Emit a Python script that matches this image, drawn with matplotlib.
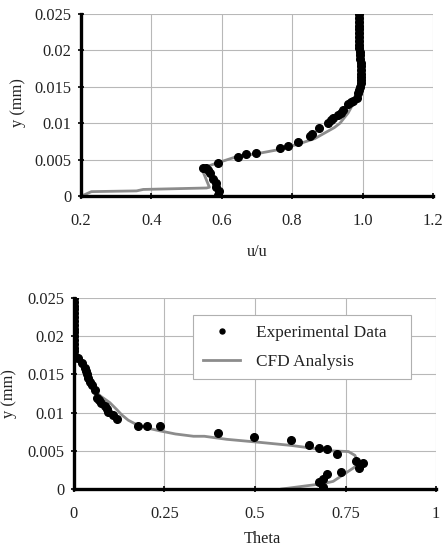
import matplotlib

matplotlib.use("Agg")
import matplotlib.pyplot as plt
from matplotlib.ticker import FixedLocator, FixedFormatter

plt.rcParams["font.family"] = ["Liberation Serif", "DejaVu Serif"]

# top panel: velocity profile
vel_exp_x = [0.59, 0.592, 0.585, 0.585, 0.576, 0.566, 0.562, 0.556, 0.546, 0.59, 0.647, 0.669,
             0.697, 0.767, 0.789, 0.817, 0.851, 0.857, 0.877, 0.903, 0.91, 0.917, 0.931, 0.938,
             0.945, 0.959, 0.966, 0.974, 0.983, 0.987, 0.99, 0.993, 0.995, 0.996, 0.997, 0.997,
             0.997, 0.996, 0.995, 0.994, 0.993, 0.992, 0.991, 0.99, 0.99, 0.989, 0.989, 0.989,
             0.989, 0.989, 0.989, 0.989]
vel_exp_y = [0.0001, 0.0007, 0.0013, 0.0018, 0.0024, 0.0031, 0.0036, 0.0038, 0.0038, 0.0046, 0.0054, 0.0057,
             0.0059, 0.0066, 0.0069, 0.0074, 0.0083, 0.0085, 0.0093, 0.0100, 0.0104, 0.0107, 0.0111, 0.0114,
             0.0118, 0.0127, 0.0129, 0.0130, 0.0134, 0.0141, 0.0146, 0.0150, 0.0155, 0.0159, 0.0163, 0.0168,
             0.0173, 0.0178, 0.0183, 0.0188, 0.0193, 0.0198, 0.0203, 0.0208, 0.0213, 0.0219, 0.0224, 0.0229,
             0.0234, 0.0239, 0.0245, 0.0250]
vel_cfd_x = [0.202, 0.23, 0.358, 0.377, 0.557, 0.565, 0.543, 0.585, 0.642, 0.699, 0.765, 0.822,
             0.865, 0.898, 0.92, 0.936, 0.959, 0.974, 0.983, 0.99, 0.992, 0.99, 0.99]
vel_cfd_y = [0.0, 0.0006, 0.0007, 0.0009, 0.0011, 0.0012, 0.0038, 0.0045, 0.0054, 0.0058, 0.0064, 0.0072,
             0.0079, 0.0088, 0.0094, 0.0100, 0.0114, 0.0127, 0.0134, 0.0141, 0.016, 0.02, 0.025]

# bottom panel: temperature profile
th_exp_x = [0.0, 0.0, 0.0, 0.0, 0.0, 0.0, 0.0, 0.0, 0.0, 0.0, 0.0, 0.0, 0.0, 0.0, 0.0, 0.0, 0.0,
            0.012, 0.021, 0.030, 0.033, 0.035, 0.040, 0.044, 0.049, 0.058, 0.063, 0.070, 0.076,
            0.086, 0.090, 0.095, 0.109, 0.118, 0.178, 0.201, 0.238, 0.399, 0.498, 0.599, 0.649,
            0.677, 0.700, 0.727, 0.779, 0.797, 0.788, 0.737, 0.698, 0.687, 0.677, 0.687, 0.687]
th_exp_y = [0.0250, 0.0245, 0.0240, 0.0235, 0.0230, 0.0225, 0.0220, 0.0215, 0.0210, 0.0205, 0.0200,
            0.0195, 0.0190, 0.0185, 0.0180, 0.0175, 0.0171,
            0.0172, 0.0165, 0.0158, 0.0155, 0.0151, 0.0145, 0.0140, 0.0136, 0.0130, 0.0119, 0.0116, 0.0112,
            0.0108, 0.0105, 0.0101, 0.0097, 0.0091, 0.0083, 0.0082, 0.0082, 0.0073, 0.0068, 0.0064, 0.0058,
            0.0054, 0.0052, 0.0046, 0.0037, 0.0034, 0.0027, 0.0022, 0.0019, 0.0013, 0.0009, 0.0002, 0.0]
th_cfd_x = [0.574, 0.680, 0.707, 0.716, 0.786, 0.776, 0.758, 0.707, 0.68, 0.6, 0.514, 0.422,
            0.36, 0.330, 0.28, 0.238, 0.2, 0.170, 0.150, 0.132, 0.118, 0.099, 0.075, 0.053,
            0.040, 0.021, 0.007, 0.0, 0.0]
th_cfd_y = [0.0, 0.00065, 0.0009, 0.0010, 0.0032, 0.0044, 0.0049, 0.0050, 0.0052, 0.0057, 0.0061, 0.0065,
            0.0069, 0.0069, 0.0072, 0.0076, 0.0080, 0.0085, 0.0090, 0.0097, 0.0104, 0.0113, 0.0121, 0.0130,
            0.0143, 0.0160, 0.0171, 0.019, 0.025]

y_ticks = [0, 0.005, 0.01, 0.015, 0.02, 0.025]
y_labels = ["0", "0.005", "0.01", "0.015", "0.02", "0.025"]
top_x_ticks = [0.2, 0.4, 0.6, 0.8, 1.0, 1.2]
top_x_labels = ["0.2", "0.4", "0.6", "0.8", "1.0", "1.2"]
bot_x_ticks = [0, 0.25, 0.5, 0.75, 1.0]
bot_x_labels = ["0", "0.25", "0.5", "0.75", "1"]

TEXT = "#222222"
FS = 11.8


def style_axis(ax, xticks, xlabels):
    ax.xaxis.set_major_locator(FixedLocator(xticks))
    ax.xaxis.set_major_formatter(FixedFormatter(xlabels))
    ax.yaxis.set_major_locator(FixedLocator(y_ticks))
    ax.yaxis.set_major_formatter(FixedFormatter(y_labels))
    ax.grid(True, color="#b8b8b8", linewidth=0.8)
    ax.set_axisbelow(True)
    for side in ("top", "right"):
        ax.spines[side].set_visible(False)
    for side in ("left", "bottom"):
        ax.spines[side].set_linewidth(2.4)
        ax.spines[side].set_color("black")
    ax.tick_params(direction="inout", length=5, width=1.2, colors="black",
                   labelcolor=TEXT, labelsize=FS)
    ax.tick_params(axis="x", pad=10)
    ax.tick_params(axis="y", pad=4.5)


fig = plt.figure(figsize=(4.47, 5.49), dpi=100)

ax1 = fig.add_axes([0.181, 0.643, 0.7875, 0.3315])
ax1.plot(vel_cfd_x, vel_cfd_y, color="#8c8c8c", linewidth=2.0, zorder=2)
ax1.plot(vel_exp_x, vel_exp_y, "o", color="black", markersize=5.5, zorder=3)
ax1.set_xlim(0.2, 1.2)
ax1.set_ylim(0, 0.025)
style_axis(ax1, top_x_ticks, top_x_labels)
ax1.set_xlabel("u/u", fontsize=FS, color=TEXT)
ax1.set_ylabel("y (mm)", fontsize=FS, color=TEXT)
ax1.xaxis.set_label_coords(0.5, -0.262)
ax1.yaxis.set_label_coords(-0.157, 0.516)

ax2 = fig.add_axes([0.1655, 0.1093, 0.81, 0.348])
ax2.plot(th_cfd_x, th_cfd_y, color="#8c8c8c", linewidth=2.0, zorder=2, label="CFD Analysis")
ax2.plot(th_exp_x, th_exp_y, "o", color="black", markersize=5.5, zorder=3, label="Experimental Data")
ax2.set_xlim(0, 1)
ax2.set_ylim(0, 0.025)
style_axis(ax2, bot_x_ticks, bot_x_labels)
ax2.set_xlabel("Theta", fontsize=FS, color=TEXT)
ax2.set_ylabel("y (mm)", fontsize=FS, color=TEXT)
ax2.xaxis.set_label_coords(0.519, -0.222)
ax2.yaxis.set_label_coords(-0.158, 0.497)

handles, labels = ax2.get_legend_handles_labels()
leg = ax2.legend(handles[::-1], labels[::-1], loc="center", bbox_to_anchor=(0.329, 0.576, 0.602, 0.33),
                 bbox_transform=ax2.transAxes, mode="expand", borderaxespad=0, fancybox=False,
                 framealpha=1, edgecolor="#b0b0b0", fontsize=12.4, markerscale=0.65, handlelength=2.2,
                 borderpad=0.55, labelspacing=0.75, handletextpad=0.9)
for t in leg.get_texts():
    t.set_color(TEXT)
leg.get_frame().set_linewidth(0.8)

fig.savefig("out.png", dpi=100)
plt.close(fig)
